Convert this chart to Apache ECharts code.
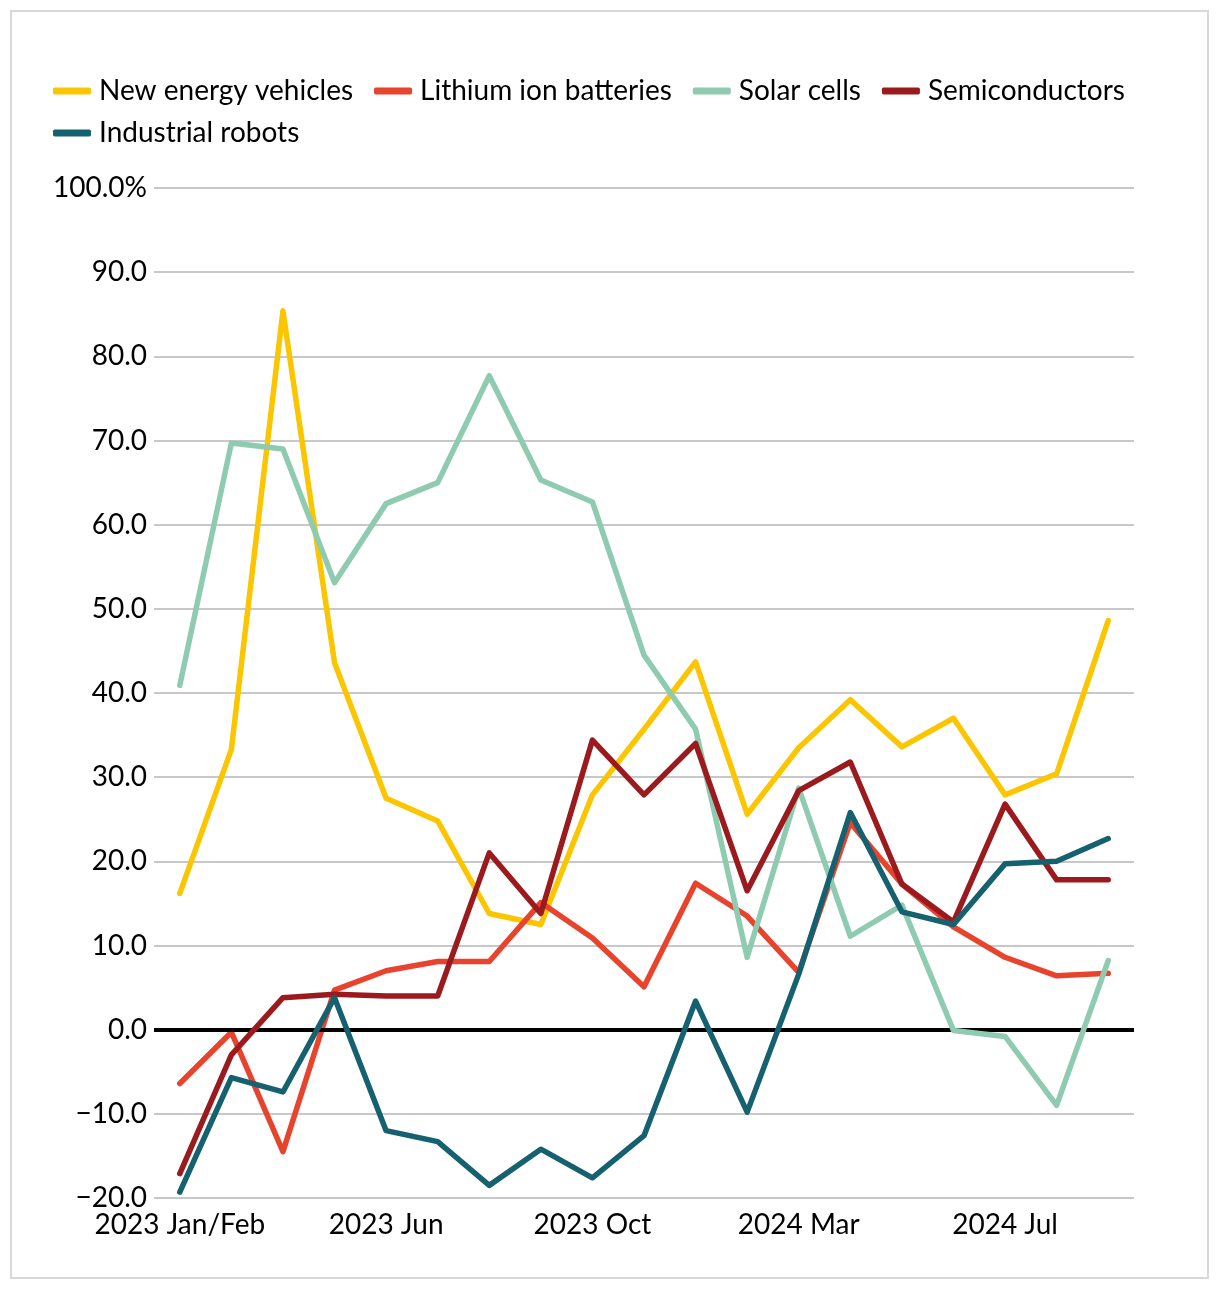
<!DOCTYPE html>
<html>
<head>
<meta charset="utf-8">
<script src="https://cdn.jsdelivr.net/npm/echarts@6/dist/echarts.min.js"></script>
<style>
html,body{margin:0;padding:0;background:#fff;}
#chart{width:1220px;height:1290px;}
</style>
</head>
<body>
<div id="chart"></div>
<script>
const categories = [
  '2023 Jan/Feb','2023 Mar','2023 Apr','2023 May','2023 Jun','2023 Jul','2023 Aug','2023 Sep',
  '2023 Oct','2023 Nov','2023 Dec','2024 Jan/Feb','2024 Mar','2024 Apr','2024 May','2024 Jun',
  '2024 Jul','2024 Aug','2024 Sep'
];
const newEnergyVehicles = [16.2, 33.3, 85.4, 43.6, 27.5, 24.8, 13.8, 12.5, 27.9, 35.7, 43.7, 25.6, 33.5, 39.2, 33.6, 37.0, 27.9, 30.4, 48.6];
const lithiumIonBatteries = [-6.4, -0.3, -14.5, 4.7, 7.0, 8.1, 8.1, 15.1, 10.9, 5.1, 17.4, 13.5, 6.8, 24.6, 17.3, 12.2, 8.6, 6.4, 6.7];
const solarCells = [40.9, 69.7, 69.0, 53.1, 62.5, 65.0, 77.7, 65.3, 62.7, 44.5, 35.7, 8.6, 28.7, 11.1, 14.8, -0.1, -0.8, -9.0, 8.2];
const semiconductors = [-17.1, -3.0, 3.8, 4.2, 4.0, 4.0, 21.0, 13.8, 34.4, 27.9, 34.0, 16.5, 28.4, 31.8, 17.3, 12.8, 26.8, 17.8, 17.8];
const industrialRobots = [-19.3, -5.7, -7.4, 3.8, -12.0, -13.3, -18.5, -14.2, -17.6, -12.6, 3.4, -9.8, 6.6, 25.8, 14.0, 12.5, 19.7, 20.0, 22.7];
const seriesNames = ['New energy vehicles','Lithium ion batteries','Solar cells','Semiconductors','Industrial robots'];
const seriesColors = ['#FBC500','#E8432D','#8FCBB0','#9B1A1E','#16616F'];
const yTicks = [-20, -10, 0, 10, 20, 30, 40, 50, 60, 70, 80, 90, 100];

const FONT = 'Lato';
const FS = 28;
const chart = echarts.init(document.getElementById('chart'), null, {renderer: 'canvas'});

function yLabel(v) {
  if (v === yTicks[yTicks.length - 1]) return v.toFixed(1) + '%';
  if (v < 0) return '\u2212' + Math.abs(v).toFixed(1);
  return v.toFixed(1);
}

const allData = [newEnergyVehicles, lithiumIonBatteries, solarCells, semiconductors, industrialRobots];
const series = allData.map((d, i) => ({
  name: seriesNames[i],
  type: 'line',
  data: d,
  symbol: 'none',
  smooth: false,
  color: seriesColors[i],
  lineStyle: {width: 5.5, color: seriesColors[i], cap: 'round', join: 'round'},
  z: 3 + i,
  animation: false
}));
series[0].markLine = {
  silent: true,
  symbol: 'none',
  label: {show: false},
  lineStyle: {color: '#000', width: 4, type: 'solid'},
  data: [{yAxis: 0}],
  animation: false
};

const legendBase = {
  left: 53,
  padding: 0,
  itemWidth: 38,
  itemHeight: 7,
  itemGap: 21,
  icon: 'roundRect',
  textStyle: {fontFamily: FONT, fontSize: FS, color: '#000', padding: [0, 0, 0, 3]}
};

chart.setOption({
  animation: false,
  backgroundColor: '#fff',
  textStyle: {fontFamily: FONT},
  graphic: [{
    type: 'rect',
    shape: {x: 11, y: 11, width: 1197, height: 1267},
    style: {fill: 'none', stroke: '#D9D9D9', lineWidth: 2},
    silent: true,
    z: -1
  }],
  legend: [
    Object.assign({}, legendBase, {top: 77, data: seriesNames.slice(0, 4)}),
    Object.assign({}, legendBase, {top: 119, data: seriesNames.slice(4)})
  ],
  grid: {left: 154, right: 86, top: 188, bottom: 92, containLabel: false},
  xAxis: {
    type: 'category',
    data: categories,
    boundaryGap: true,
    axisLine: {show: false},
    axisTick: {show: false},
    axisLabel: {
      interval: 3,
      margin: 13,
      fontFamily: FONT,
      fontSize: FS,
      lineHeight: 28,
      color: '#000'
    },
    splitLine: {show: false}
  },
  yAxis: {
    type: 'value',
    min: yTicks[0],
    max: yTicks[yTicks.length - 1],
    interval: 10,
    axisLine: {show: false},
    axisTick: {show: false},
    axisLabel: {
      margin: 7,
      fontFamily: FONT,
      fontSize: FS,
      color: '#000',
      formatter: yLabel
    },
    splitLine: {lineStyle: {color: '#C8C8C8', width: 2}}
  },
  series: series
});
</script>
</body>
</html>
